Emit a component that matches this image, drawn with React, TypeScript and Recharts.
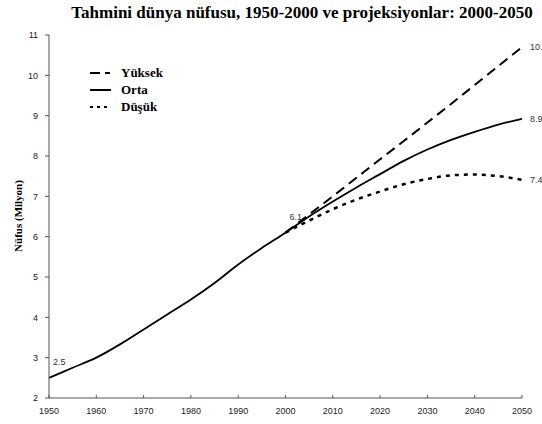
import { LineChart, Line, XAxis, YAxis, LabelList } from 'recharts';

const years = [1950, 1955, 1960, 1965, 1970, 1975, 1980, 1985, 1990, 1995, 2000, 2005, 2010, 2015, 2020, 2025, 2030, 2035, 2040, 2045, 2050];
const ortaValues = [2.5, 2.75, 3.0, 3.33, 3.7, 4.07, 4.44, 4.85, 5.31, 5.72, 6.1, 6.5, 6.87, 7.22, 7.55, 7.88, 8.16, 8.4, 8.6, 8.78, 8.92];
const yuksekValues = [null, null, null, null, null, null, null, null, null, null, 6.1, 6.55, 7.0, 7.46, 7.92, 8.37, 8.83, 9.29, 9.76, 10.23, 10.7];
const dusukValues = [null, null, null, null, null, null, null, null, null, null, 6.1, 6.4, 6.68, 6.92, 7.12, 7.3, 7.43, 7.52, 7.54, 7.5, 7.41];

const xTicks = [1950, 1960, 1970, 1980, 1990, 2000, 2010, 2020, 2030, 2040, 2050];
const yTicks = [2, 3, 4, 5, 6, 7, 8, 9, 10, 11];

// which points get a value label
const ortaLabels: Record<number, string> = { 0: '2.5', 10: '6.1', 20: '8.9' };
const yuksekLabels: Record<number, string> = { 20: '10.7' };
const dusukLabels: Record<number, string> = { 20: '7.4' };

const legendItems = [
  { name: 'Yüksek', dash: '10 5 5 100' },
  { name: 'Orta', dash: undefined },
  { name: 'Düşük', dash: '3 4' },
];

const title = 'Tahmini dünya nüfusu, 1950-2000 ve projeksiyonlar: 2000-2050';
const yTitle = 'Nüfus (Milyon)';

const data = years.map((year, i) => ({
  year,
  orta: ortaValues[i],
  yuksek: yuksekValues[i],
  dusuk: dusukValues[i],
}));

const sans = '"Liberation Sans", Arial, sans-serif';
const serif = '"Liberation Serif", "Times New Roman", serif';

function makeLabel(labels: Record<number, string>) {
  return (props: any) => {
    const { x, y, index } = props;
    const text = labels[index];
    if (!text || x == null || y == null) return null;
    const last = index === years.length - 1;
    return (
      <text
        x={last ? x + 8 : x + 4}
        y={last ? y + 3 : y - 13}
        fontSize={9}
        fontFamily={sans}
        fill="#333"
      >
        {text}
      </text>
    );
  };
}

const XTick = (props: any) => {
  const { x, y, payload } = props;
  return (
    <g>
      <line x1={x} y1={y} x2={x} y2={y - 3} stroke="#555" />
      <text x={x} y={y + 16} textAnchor="middle" fontSize={9} fontFamily={sans} fill="#222">
        {payload.value}
      </text>
    </g>
  );
};

export default function App() {
  return (
    <div style={{ position: 'absolute', left: 0, top: 0, width: 542, height: 424, background: '#fff' }}>
      <LineChart width={542} height={424} data={data} margin={{ top: 35, right: 20, left: 0, bottom: 0 }}>
        <XAxis
          dataKey="year"
          type="number"
          domain={[1950, 2050]}
          ticks={xTicks}
          tickSize={0}
          tickMargin={0}
          tick={<XTick />}
          stroke="#555"
          height={26}
        />
        <YAxis
          type="number"
          domain={[2, 11]}
          ticks={yTicks}
          tickSize={4}
          tickMargin={7}
          width={49}
          stroke="#555"
          tick={{ fontSize: 9, fontFamily: sans, fill: '#222' }}
        />
        <Line type="monotone" dataKey="orta" stroke="#000" strokeWidth={1.8} dot={false} isAnimationActive={false}>
          <LabelList dataKey="orta" content={makeLabel(ortaLabels)} />
        </Line>
        <Line type="monotone" dataKey="yuksek" stroke="#000" strokeWidth={2} strokeDasharray="10 6" dot={false} isAnimationActive={false}>
          <LabelList dataKey="yuksek" content={makeLabel(yuksekLabels)} />
        </Line>
        <Line type="monotone" dataKey="dusuk" stroke="#000" strokeWidth={2.5} strokeDasharray="4 5" dot={false} isAnimationActive={false}>
          <LabelList dataKey="dusuk" content={makeLabel(dusukLabels)} />
        </Line>
      </LineChart>
      <svg width={542} height={424} style={{ position: 'absolute', left: 0, top: 0, pointerEvents: 'none' }}>
        <text x={302} y={18} textAnchor="middle" fontSize={17} fontWeight="bold" fontFamily={serif} fill="#000">
          {title}
        </text>
        <text
          x={22}
          y={216}
          textAnchor="middle"
          fontSize={11}
          fontWeight="bold"
          fontFamily={serif}
          fill="#000"
          transform="rotate(-90 22 216)"
        >
          {yTitle}
        </text>
        {legendItems.map((item, i) => (
          <g key={item.name}>
            <line
              x1={90}
              x2={111}
              y1={73 + i * 17}
              y2={73 + i * 17}
              stroke="#000"
              strokeWidth={2}
              strokeDasharray={item.dash}
            />
            <text x={121} y={77 + i * 17} fontSize={13} fontWeight="bold" fontFamily={serif} fill="#000">
              {item.name}
            </text>
          </g>
        ))}
      </svg>
    </div>
  );
}
